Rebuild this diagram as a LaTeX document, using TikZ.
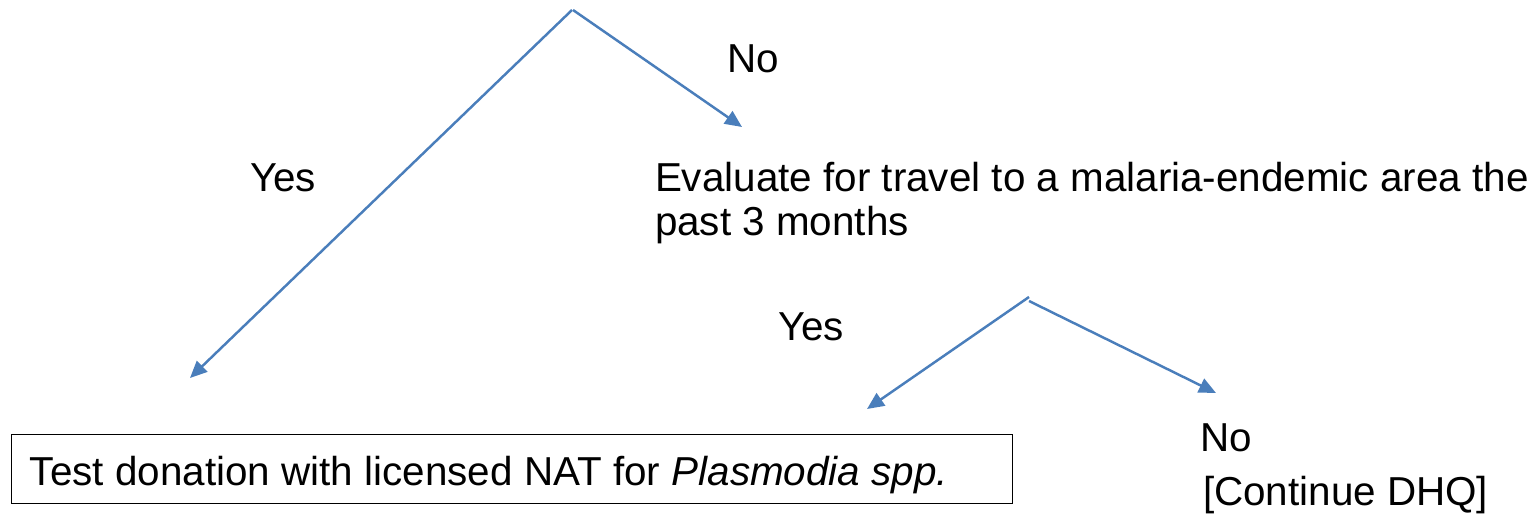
\documentclass[tikz,border=0pt]{standalone}
\usepackage{fontspec}
\setmainfont{Liberation Sans}
\usetikzlibrary{arrows.meta}
\definecolor{linkblue}{RGB}{74,126,187}
\begin{document}
\begin{tikzpicture}[x=0.02cm,y=-0.02cm,
  lbl/.style={inner sep=0pt,outer sep=0pt,anchor=base west,font=\fontsize{23}{25}\selectfont},
  conn/.style={draw=linkblue,line width=1.4pt,-{Triangle[length=0.34cm,width=0.3cm]}},
  resbox/.style={draw=black,line width=0.8pt,inner sep=0pt,minimum width=1001*0.02cm,minimum height=69*0.02cm,anchor=north west}]
\useasboundingbox (0,0) rectangle (1533,516);
% apexes and arrow ends
\coordinate (top) at (572,10);
\coordinate (topR) at (573,10);
\coordinate (endL) at (190,378);
\coordinate (endR) at (742,127);
\coordinate (mid) at (1029,297);
\coordinate (midR) at (1029,301);
\coordinate (endML) at (867,409);
\coordinate (endMR) at (1216,393);
% texts
\node[lbl] (no1) at (727,73) {No};
\node[lbl] (yes1) at (250,192) {Yes};
\node[lbl] (eval) at (655,192) {Evaluate for travel to a malaria-endemic area the};
\node[lbl] (eval2) at (655,236) {past 3 months};
\node[lbl] (yes2) at (778,341) {Yes};
\node[lbl] (no2) at (1200,451) {No};
\node[lbl] (cont) at (1203,505) {[Continue DHQ]};
\node[resbox] (box) at (11,434) {};
\node[lbl] (boxtext) at (30,485) {Test donation with licensed NAT for \textit{Plasmodia spp.}};
% connectors
\draw[conn] (top) -- (endL);
\draw[conn] (topR) -- (endR);
\draw[conn] (mid) -- (endML);
\draw[conn] (midR) -- (endMR);
\end{tikzpicture}
\end{document}
